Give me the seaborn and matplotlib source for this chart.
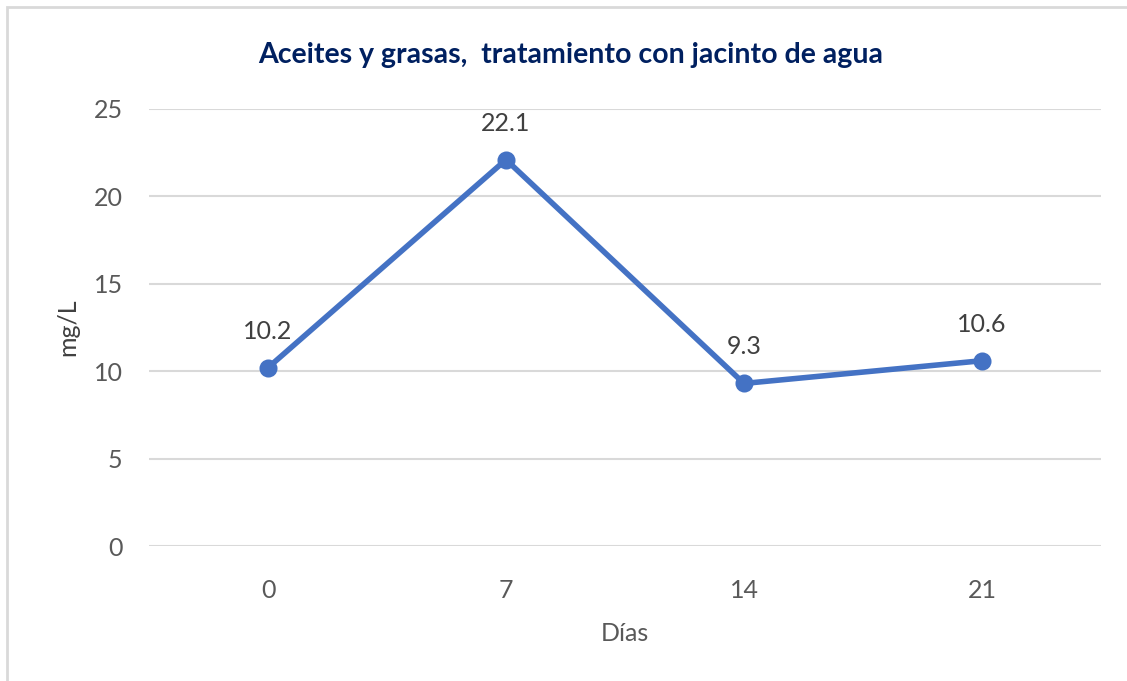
import matplotlib
matplotlib.use("Agg")
import matplotlib.pyplot as plt
import seaborn as sns
import pandas as pd
from matplotlib.patches import Rectangle

dias = ["0", "7", "14", "21"]
valores = [10.2, 22.1, 9.3, 10.6]
yticks = [0, 5, 10, 15, 20, 25]

sns.set_style("white")
plt.rcParams["font.family"] = ["Lato", "DejaVu Sans"]

df = pd.DataFrame({"Días": dias, "mg/L": valores})

fig = plt.figure(figsize=(11.27, 6.81), dpi=100)
ax = fig.add_axes([149/1127, 1-546/681, 952/1127, 437/681])

sns.pointplot(data=df, x="Días", y="mg/L", color="#4472C4", ax=ax,
              markers="o", markersize=10, linewidth=4, errorbar=None)

ax.set_ylim(0, 25)
ax.set_xlim(-0.5, 3.5)
ax.set_yticks(yticks)
ax.yaxis.grid(True, color="#D9D9D9", linewidth=1.5)
ax.xaxis.grid(False)
ax.set_axisbelow(True)
for s in ax.spines.values():
    s.set_visible(False)
ax.tick_params(axis="both", length=0, labelsize=18, labelcolor="#595959")
ax.tick_params(axis="y", pad=19)
ax.tick_params(axis="x", pad=24)

for i, v in enumerate(valores):
    ax.annotate(f"{v}", (i, v), xytext=(0, 18), textcoords="offset points",
                ha="center", va="bottom", fontsize=18, color="#404040")

ax.set_xlabel("Días", fontsize=18, color="#595959", labelpad=14)
ax.set_ylabel("mg/L", fontsize=18, color="#404040", labelpad=10)

fig.text(571/1127, 1-55/681, "Aceites y grasas,  tratamiento con jacinto de agua",
         ha="center", va="center", fontsize=20.5, fontweight="bold", color="#002060")

fig.patches.append(Rectangle((7/1127, -0.1), 1.2, 1-7/681+0.1, transform=fig.transFigure,
                             fill=False, edgecolor="#D9D9D9", linewidth=2))

fig.savefig("out.png", dpi=100)
